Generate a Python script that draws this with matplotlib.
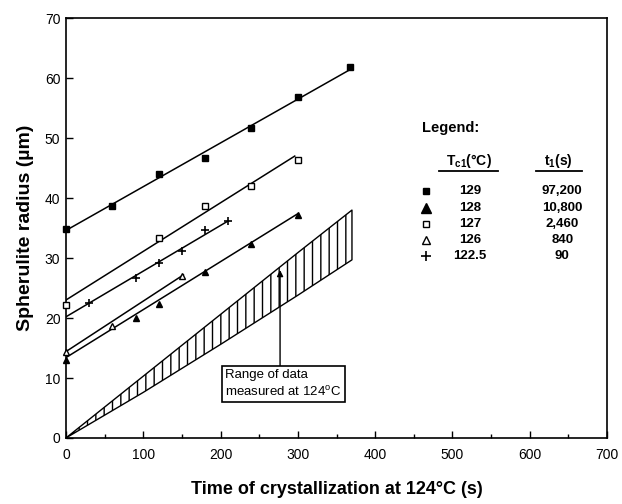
import matplotlib
matplotlib.use("Agg")
import matplotlib.pyplot as plt
from matplotlib.ticker import MultipleLocator

plt.rcParams["font.family"] = ["Liberation Sans", "DejaVu Sans"]
plt.rcParams["mathtext.default"] = "regular"
plt.rcParams["hatch.linewidth"] = 1.0

# spherulite radius (um) vs time (s)
t_129 = [0, 60, 120, 180, 240, 300, 368]
r_129 = [34.9, 38.7, 44.0, 46.7, 51.6, 56.8, 61.9]
fit_129_t = [0, 370]
fit_129_r = [34.6, 61.6]

t_128 = [0, 90, 120, 180, 240, 300]
r_128 = [13.0, 20.0, 22.4, 27.7, 32.3, 37.2]
fit_128_t = [0, 300]
fit_128_r = [13.4, 37.4]

t_127 = [0, 120, 180, 240, 300]
r_127 = [22.1, 33.4, 38.7, 42.0, 46.3]
fit_127_t = [0, 296]
fit_127_r = [23.0, 47.0]

t_126 = [0, 60, 150]
r_126 = [14.3, 18.6, 27.0]
fit_126_t = [0, 152]
fit_126_r = [14.4, 27.2]

t_1225 = [30, 90, 120, 150, 180, 210]
r_1225 = [22.5, 26.6, 29.1, 31.1, 34.7, 36.1]
fit_1225_t = [0, 210]
fit_1225_r = [20.2, 36.2]

# range of data measured at 124 C (hatched band)
band_t = [0, 100, 200, 300, 370]
band_upper = [0, 10.3, 20.6, 30.9, 38.0]
band_lower = [0, 7.6, 15.6, 23.8, 29.7]

legend_tc = ["129", "128", "127", "126", "122.5"]
legend_t1 = ["97,200", "10,800", "2,460", "840", "90"]

fig = plt.figure(figsize=(6.22, 5.04), dpi=100)
ax = fig.add_axes([0.106, 0.131, 0.870, 0.833])

ax.fill_between(band_t, band_lower, band_upper, facecolor="white",
                edgecolor="black", hatch="||", linewidth=1.0)

ax.plot(fit_129_t, fit_129_r, color="black", lw=1.1)
ax.plot(fit_128_t, fit_128_r, color="black", lw=1.1)
ax.plot(fit_127_t, fit_127_r, color="black", lw=1.1)
ax.plot(fit_126_t, fit_126_r, color="black", lw=1.1)
ax.plot(fit_1225_t, fit_1225_r, color="black", lw=1.1)

mk = dict(linestyle="none", color="black", clip_on=False, zorder=3)
ax.plot(t_129, r_129, marker="s", markersize=5, **mk)
ax.plot(t_128, r_128, marker="^", markersize=5, **mk)
ax.plot(t_127, r_127, marker="s", markersize=4.5, markerfacecolor="white",
        markeredgewidth=1.0, **mk)
ax.plot(t_126, r_126, marker="^", markersize=5, markerfacecolor="white",
        markeredgewidth=1.0, **mk)
ax.plot(t_1225, r_1225, marker="+", markersize=6, markeredgewidth=1.2, **mk)

# annotation box with leader arrow
ax.annotate("", xy=(277, 28), xytext=(277, 12),
            arrowprops=dict(arrowstyle="-|>", color="black", lw=1.0,
                            mutation_scale=9, shrinkA=0, shrinkB=0))
ax.text(206, 9.0, "Range of data\nmeasured at 124$^o$C", fontsize=9.5,
        ha="left", va="center", linespacing=1.3,
        bbox=dict(boxstyle="square,pad=0.25", facecolor="white",
                  edgecolor="black", linewidth=1.2))

# hand-made legend table
ax.text(460, 51.7, "Legend:", fontsize=10.5, fontweight="bold",
        ha="left", va="center")
ax.text(521, 46.1, "T$_{c1}$(°C)", fontsize=10, fontweight="bold",
        ha="center", va="center")
ax.text(637, 46.1, "t$_1$(s)", fontsize=10, fontweight="bold",
        ha="center", va="center")
ax.plot([482, 559], [44.5, 44.5], color="black", lw=1.3)
ax.plot([608, 667], [44.5, 44.5], color="black", lw=1.3)

row_y = [41.2, 38.3, 35.6, 33.0, 30.3]
key_styles = [
    dict(marker="s", markersize=4.5, markerfacecolor="black"),
    dict(marker="^", markersize=7, markerfacecolor="black"),
    dict(marker="s", markersize=4.5, markerfacecolor="white"),
    dict(marker="^", markersize=6, markerfacecolor="white"),
    dict(marker="+", markersize=7, markeredgewidth=1.2),
]
for y, style, tc, t1 in zip(row_y, key_styles, legend_tc, legend_t1):
    ax.plot([466], [y], linestyle="none", color="black", **style)
    ax.text(523, y, tc, fontsize=9.5, fontweight="bold", ha="center", va="center")
    ax.text(642, y, t1, fontsize=9.5, fontweight="bold", ha="center", va="center")

ax.set_xlim(0, 700)
ax.set_ylim(0, 70)
ax.xaxis.set_major_locator(MultipleLocator(100))
ax.xaxis.set_minor_locator(MultipleLocator(50))
ax.yaxis.set_major_locator(MultipleLocator(10))
ax.tick_params(which="major", direction="in", length=5, width=1.0,
               labelsize=10, pad=7)
ax.tick_params(axis="y", which="major", pad=4)
ax.tick_params(which="minor", direction="in", length=3, width=1.0)
for s in ax.spines.values():
    s.set_linewidth(1.2)

ax.set_xlabel("Time of crystallization at 124°C (s)", fontsize=13,
              fontweight="bold", labelpad=14)
ax.set_ylabel("Spherulite radius (µm)", fontsize=14, fontweight="bold",
              labelpad=8)

fig.savefig("out.png", dpi=100)
